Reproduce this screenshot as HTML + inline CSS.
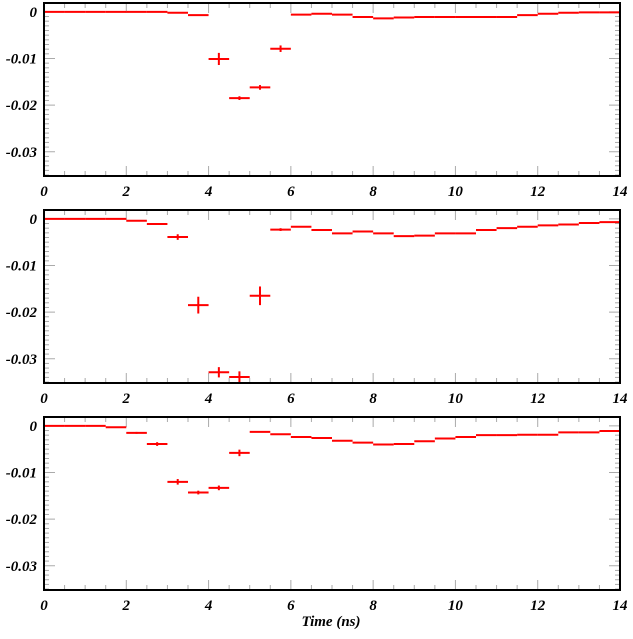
<!DOCTYPE html>
<html><head><meta charset="utf-8"><style>
html,body{margin:0;padding:0;background:#fff}
svg text{font-family:"Liberation Serif",serif;font-weight:bold;font-style:italic}
</style></head><body>
<svg id="c" width="633" height="634" xmlns="http://www.w3.org/2000/svg"></svg>
<script>
const binEdgesStart = 0, binWidth = 0.5;
const xTicks = ["0","2","4","6","8","10","12","14"];
const yTicks = ["0","-0.01","-0.02","-0.03"];
const series1 = [0,0,0,0,0,0,-0.0002,-0.0007,-0.0101,-0.0185,-0.0162,-0.0079,-0.0006,-0.0004,-0.0006,-0.0011,-0.0014,-0.0012,-0.0011,-0.0011,-0.0011,-0.0011,-0.0011,-0.0007,-0.0004,-0.0002,-0.0001,-0.0001];
const errors1 = [0,0,0,0,0,0,0,0,0.0013,0.0004,0.0005,0.0007,0,0,0,0,0,0,0,0,0,0,0,0,0,0,0,0];
const series2 = [0,0,0,0,-0.0004,-0.0011,-0.0039,-0.0185,-0.0329,-0.0339,-0.0165,-0.0023,-0.0017,-0.0024,-0.0031,-0.0027,-0.0031,-0.0037,-0.0036,-0.0031,-0.0031,-0.0024,-0.002,-0.0017,-0.0014,-0.0012,-0.0009,-0.0007];
const errors2 = [0,0,0,0,0,0,0.0006,0.0018,0.0011,0.0012,0.002,0.0003,0,0,0,0,0,0,0,0,0,0,0,0,0,0,0,0];
const series3 = [0,0,0,-0.0003,-0.0015,-0.0039,-0.012,-0.0143,-0.0133,-0.0058,-0.0013,-0.0018,-0.0024,-0.0026,-0.0032,-0.0036,-0.004,-0.0039,-0.0033,-0.0027,-0.0024,-0.002,-0.002,-0.0019,-0.0019,-0.0014,-0.0014,-0.0011];
const errors3 = [0,0,0,0,0.0002,0.0004,0.0006,0.0004,0.0005,0.0007,0,0,0,0,0,0,0,0,0,0,0,0,0,0,0,0,0,0];
const panels = [{s:series1,e:errors1,top:3},{s:series2,e:errors2,top:210},{s:series3,e:errors3,top:417}];

const svg = document.getElementById('c');
const NS = "http://www.w3.org/2000/svg";
const L = 44, R = 620, H = 173, XMAX = 14, YMAX = 0.0019, YMIN = -0.0352;
function X(v){return L + (v/XMAX)*(R-L);}
function mk(tag, attrs, parent){const e=document.createElementNS(NS,tag);for(const k in attrs)e.setAttribute(k,attrs[k]);(parent||svg).appendChild(e);return e;}

panels.forEach((p, pi) => {
  const top = p.top, bot = top + H;
  const Y = v => top + (YMAX - v)/(YMAX - YMIN)*H;
  const g = mk('g', {});
  
  
  for (let t = 0; t <= XMAX + 1e-9; t += 0.5) {
    const major = Math.abs(t/2 - Math.round(t/2)) < 1e-9;
    const len = major ? 10 : 5, x = X(t);
    mk('line', {x1:x, y1:bot, x2:x, y2:bot-len, stroke:'#aaa', 'stroke-width':1}, g);
    mk('line', {x1:x, y1:top, x2:x, y2:top+len, stroke:'#aaa', 'stroke-width':1}, g);
  }
  for (let k = 0; k >= -35; k--) {
    const v = k*0.001;
    if (v < YMIN) break;
    const major = k % 10 === 0;
    const len = major ? 11 : 5, y = Y(v);
    mk('line', {x1:L, y1:y, x2:L+len, y2:y, stroke:'#aaa', 'stroke-width':1}, g);
    mk('line', {x1:R, y1:y, x2:R-len, y2:y, stroke:'#aaa', 'stroke-width':1}, g);
  }
  p.s.forEach((v, i) => {
    const x0 = X(binEdgesStart + i*binWidth), x1 = X(binEdgesStart + (i+1)*binWidth), y = Y(v);
    const h = mk('line', {x1:x0, y1:y, x2:x1, y2:y, stroke:'#f00', 'stroke-width':2}, g);
    
    
    if (p.e[i] > 0) {
      const xm = (x0+x1)/2;
      const ev = mk('line', {x1:xm, y1:Y(v+p.e[i]), x2:xm, y2:Y(v-p.e[i]), stroke:'#f00', 'stroke-width':2}, g);
      
      
    }
  });
  mk('rect', {x:L, y:top, width:R-L, height:H, fill:'none', stroke:'#000', 'stroke-width':2}, g);
  xTicks.forEach(t => {
    const tx = mk('text', {x:X(+t), y:bot+20, 'text-anchor':'middle', 'font-size':15}, g);
    tx.textContent = t;
    
    
  });
  yTicks.forEach(t => {
    const ty = mk('text', {x:37, y:Y(+t)+5, 'text-anchor':'end', 'font-size':15}, g);
    ty.textContent = t;
    
    
  });
});
const xt = mk('text', {x:331, y:626, 'text-anchor':'middle', 'font-size':15});
xt.textContent = 'Time (ns)';


</script>
</body></html>
